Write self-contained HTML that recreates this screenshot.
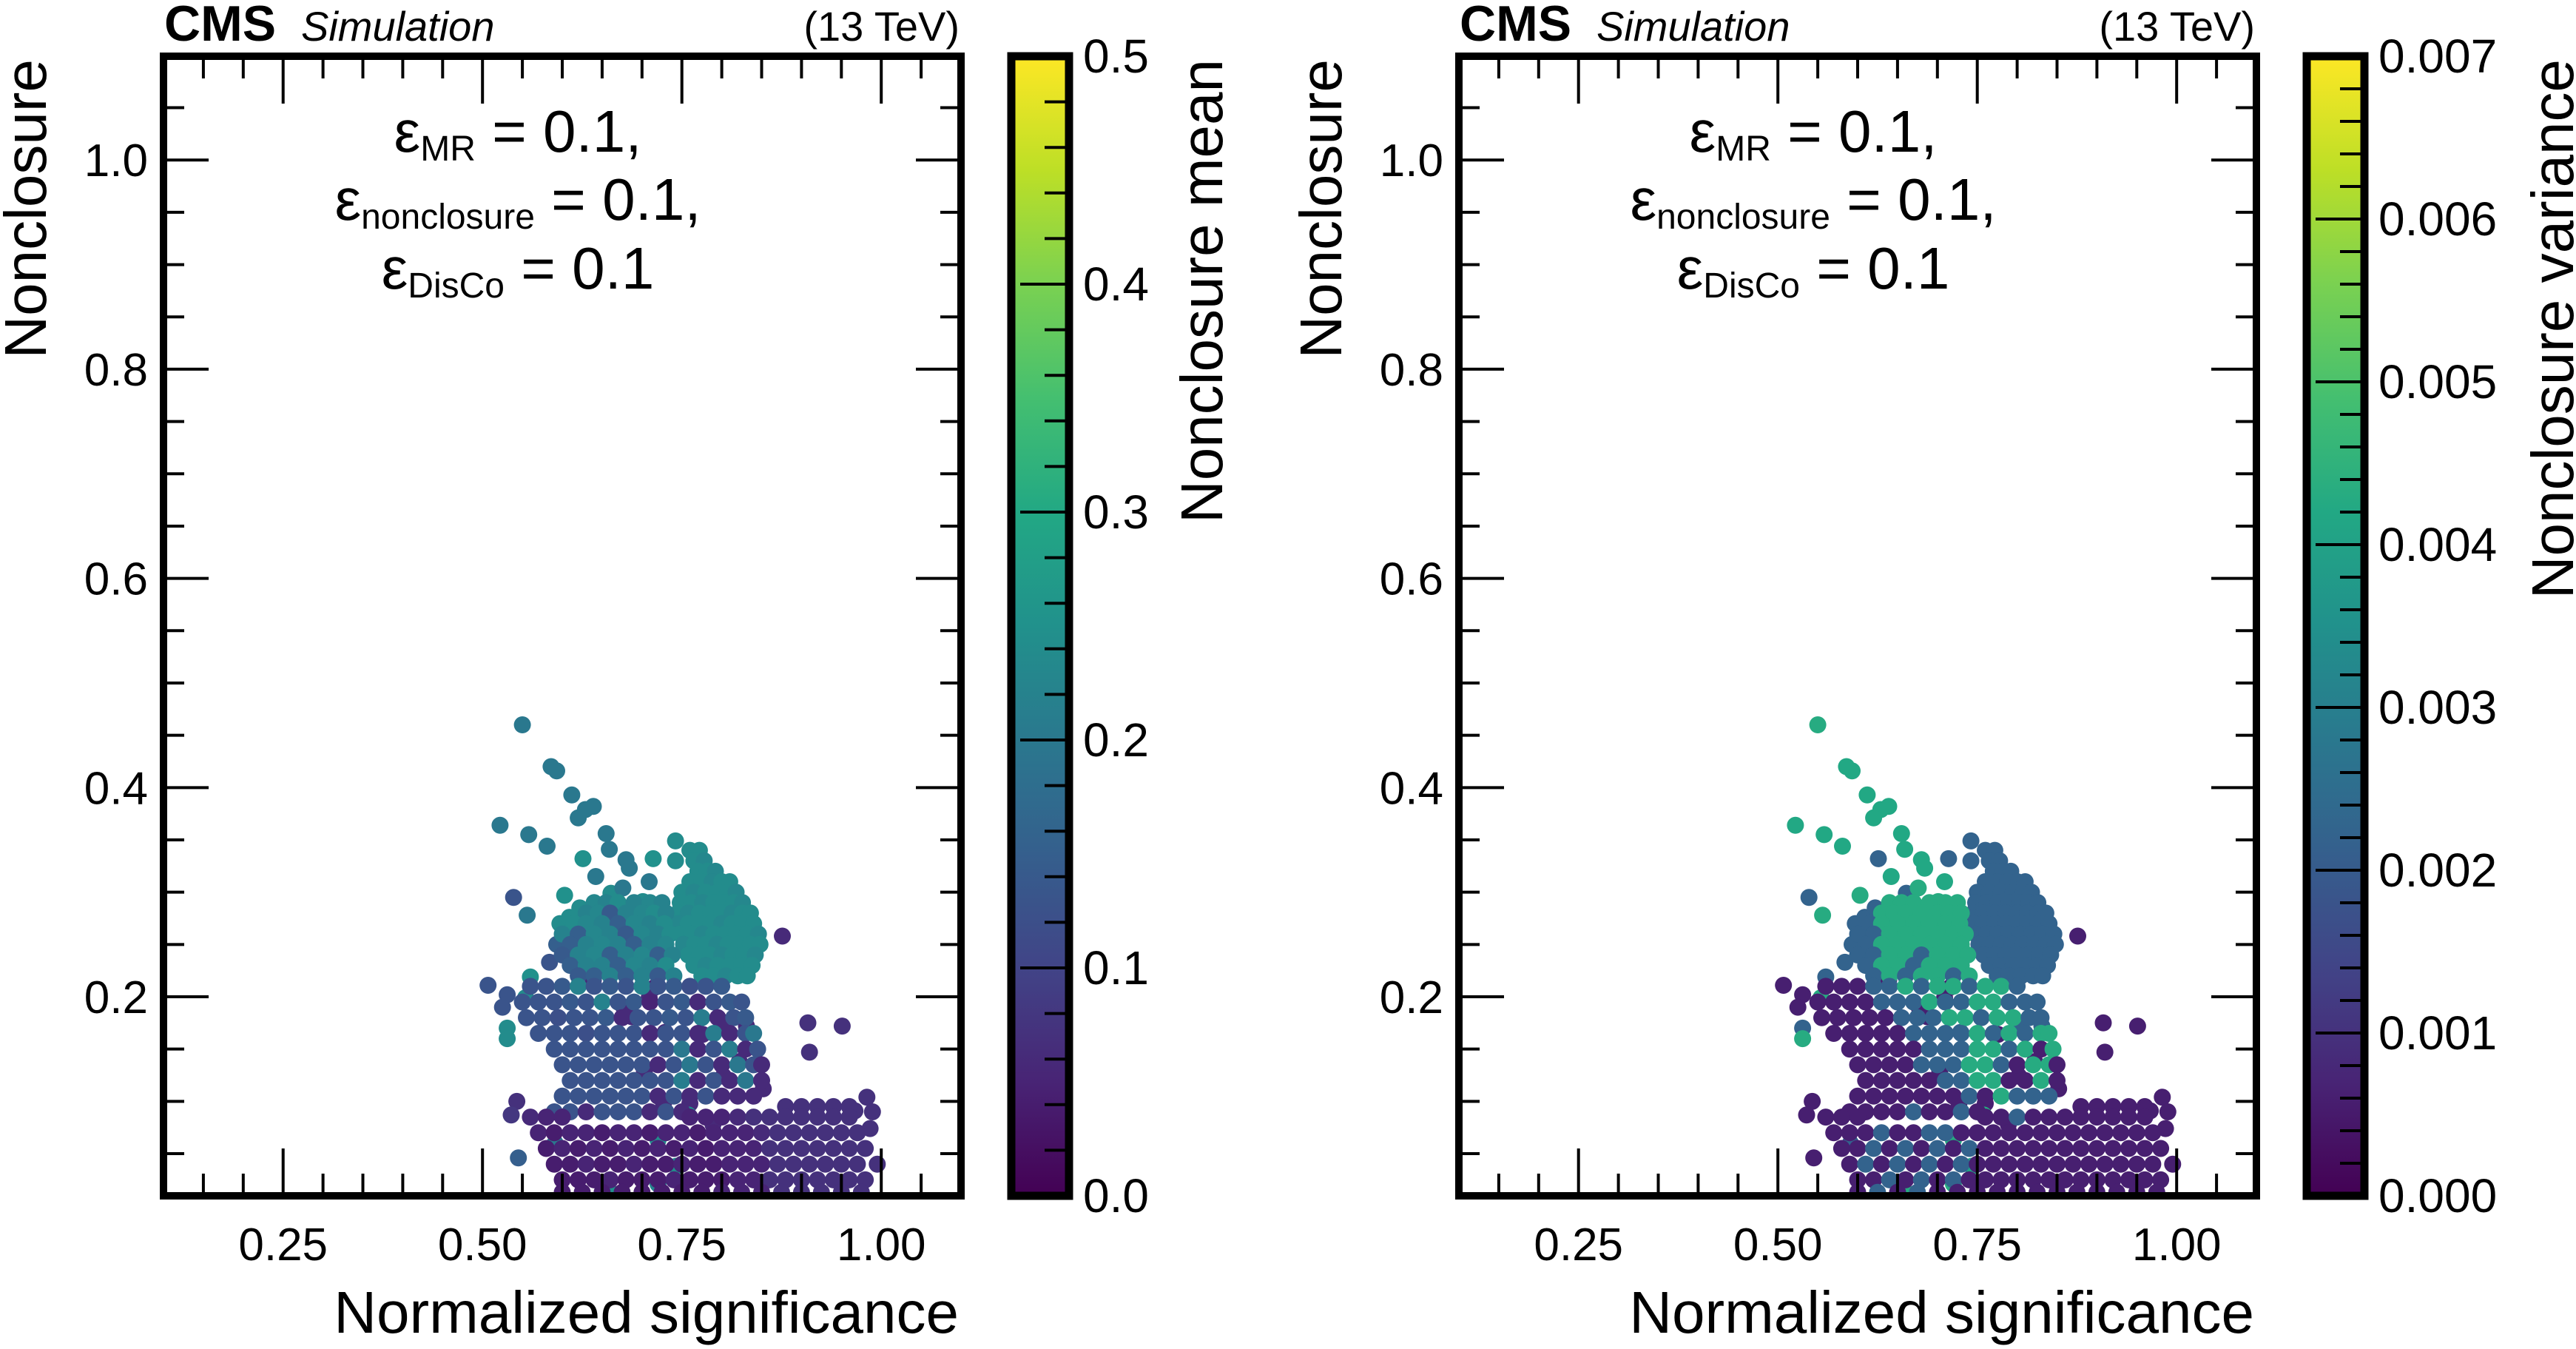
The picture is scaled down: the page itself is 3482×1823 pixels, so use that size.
<!DOCTYPE html>
<html><head><meta charset="utf-8">
<style>
html,body{margin:0;padding:0;background:#fff;}
svg{display:block;font-family:"Liberation Sans",Arial,sans-serif;}
</style></head>
<body>
<svg id="fig" width="3482" height="1823" viewBox="0 0 3482 1823" xmlns="http://www.w3.org/2000/svg">
<defs>
<linearGradient id="viridis" x1="0" y1="1" x2="0" y2="0">
<stop offset="0" stop-color="#440154"/><stop offset="0.1" stop-color="#482475"/><stop offset="0.2" stop-color="#414487"/><stop offset="0.3" stop-color="#355f8d"/><stop offset="0.4" stop-color="#2a788e"/><stop offset="0.5" stop-color="#21918c"/><stop offset="0.6" stop-color="#22a884"/><stop offset="0.7" stop-color="#44bf70"/><stop offset="0.8" stop-color="#7ad151"/><stop offset="0.9" stop-color="#bddf26"/><stop offset="1" stop-color="#fde725"/>
</linearGradient>
<clipPath id="clipL"><rect x="221" y="76" width="1078" height="1540"/></clipPath>
<clipPath id="clipR"><rect x="1972" y="76" width="1078" height="1540"/></clipPath>
</defs>
</svg>
<script>
// ---- data ----
const sigX = [
0.550,0.586,0.593,0.612,0.629,0.639,0.620,0.522,0.558,0.581,0.655,0.659,0.680,0.684,0.626,0.642,0.714,0.742,0.742,0.709,0.539,0.556,0.603,0.876,0.507,0.908,0.951,0.910,0.982,0.967,0.989,0.986,0.545,0.531,0.531,
0.593,0.584,0.560,0.531,0.525,0.554,0.543,0.536,0.597,0.609,0.622,0.617,0.639,0.650,0.661,0.676,0.701,0.698,0.639,0.716,0.709,0.677,0.687,0.729,0.776,0.804,0.831,0.703,0.727,0.760,0.802,0.822,0.852,0.789,0.758,0.720,0.743,0.720,0.591,0.665,
0.760,0.772, 0.765,0.778, 0.770,0.782,0.792, 0.760,0.775,0.788,0.800,0.810, 0.750,0.765,0.780,0.795,0.808,0.818, 0.748,0.762,0.776,0.790,0.803,0.815,0.826,
0.745,0.758,0.772,0.786,0.800,0.813,0.826,0.836, 0.745,0.758,0.772,0.786,0.800,0.813,0.826,0.840, 0.748,0.762,0.776,0.790,0.804,0.818,0.832,0.846,
0.752,0.766,0.780,0.794,0.808,0.822,0.836,0.848, 0.758,0.772,0.786,0.800,0.814,0.828,0.842, 0.765,0.780,0.795,0.810,0.825,0.838, 0.775,0.790,0.805,0.820,0.832,
0.640,0.655,0.670,0.690,0.710,0.725, 0.630,0.645,0.660,0.680,0.700,0.715,0.730, 0.615,0.630,0.650,0.670,0.690,0.710,0.728, 0.600,0.620,0.640,0.660,0.680,0.700,0.720,0.735,
0.610,0.630,0.650,0.670,0.690,0.710,0.730, 0.600,0.620,0.640,0.660,0.680,0.700,0.720,0.738, 0.610,0.630,0.650,0.670,0.690,0.710,0.730, 0.620,0.640,0.660,0.680,0.700,0.720,0.740,
0.560,0.580,0.600,0.620,0.640,0.660,0.680,0.700,0.720,0.740,0.760,0.780,0.800,
0.550,0.570,0.590,0.610,0.630,0.650,0.670,0.690,0.710,0.730,0.750,0.770,0.790,0.810,0.825,
0.555,0.575,0.595,0.615,0.635,0.655,0.675,0.695,0.715,0.735,0.755,0.775,0.795,0.815,0.830,
0.570,0.590,0.610,0.630,0.650,0.670,0.690,0.710,0.730,0.750,0.770,0.790,0.810,0.830,0.840,
0.590,0.610,0.630,0.650,0.670,0.690,0.710,0.730,0.750,0.770,0.790,0.810,0.830,0.845,
0.600,0.620,0.640,0.660,0.680,0.700,0.720,0.740,0.760,0.780,0.800,0.820,0.840,0.850,
0.610,0.630,0.650,0.670,0.690,0.710,0.730,0.750,0.770,0.790,0.810,0.830,0.850,
0.600,0.620,0.640,0.660,0.680,0.700,0.720,0.740,0.760,0.780,0.800,0.820,0.840,
0.590,0.610,0.630,0.650,0.670,0.690,0.710,0.730,0.750,
0.880,0.900,0.920,0.940,0.960,
0.560,0.580,0.600,0.760,0.780,0.800,0.820,0.840,0.860,0.880,0.900,0.920,0.940,0.960,
0.570,0.590,0.610,0.630,0.650,0.670,0.690,0.710,0.730,0.750,0.770,0.790,0.810,0.830,0.850,0.870,0.890,0.910,0.930,0.950,0.970,
0.580,0.600,0.620,0.640,0.660,0.680,0.700,0.720,0.740,0.760,0.780,0.800,0.820,0.840,0.860,0.880,0.900,0.920,0.940,0.960,0.980,
0.590,0.610,0.630,0.650,0.670,0.690,0.710,0.730,0.750,0.770,0.790,0.810,0.830,0.850,0.870,0.890,0.910,0.930,0.950,0.970,0.995,
0.600,0.620,0.640,0.660,0.680,0.700,0.720,0.740,0.760,0.780,0.800,0.820,0.840,0.860,0.880,0.900,0.920,0.940,0.960,0.980,
0.600,0.625,0.650,0.675,0.700,0.725,0.750,0.775,0.800,0.825,0.850,0.875,0.900,0.925,0.950,0.975
];
const nonY = [
0.460,0.420,0.416,0.393,0.379,0.382,0.371,0.364,0.355,0.344,0.356,0.341,0.331,0.323,0.332,0.315,0.332,0.349,0.330,0.310,0.295,0.278,0.297,0.258,0.211,0.175,0.172,0.147,0.104,0.091,0.090,0.074,0.046,0.170,0.160,
0.250,0.233,0.219,0.202,0.190,0.199,0.100,0.087,0.270,0.276,0.285,0.261,0.273,0.259,0.299,0.304,0.291,0.255,0.216,0.209,0.199,0.190,0.181,0.166,0.164,0.175,0.172,0.129,0.098,0.098,0.124,0.138,0.112,0.078,0.087,0.063,0.038,0.021,0.060,0.011,
0.340,0.340, 0.330,0.330, 0.320,0.320,0.320, 0.310,0.310,0.310,0.310,0.310, 0.300,0.300,0.300,0.300,0.300,0.300, 0.290,0.290,0.290,0.290,0.290,0.290,0.290,
0.280,0.280,0.280,0.280,0.280,0.280,0.280,0.280, 0.270,0.270,0.270,0.270,0.270,0.270,0.270,0.270, 0.260,0.260,0.260,0.260,0.260,0.260,0.260,0.260,
0.250,0.250,0.250,0.250,0.250,0.250,0.250,0.250, 0.240,0.240,0.240,0.240,0.240,0.240,0.240, 0.230,0.230,0.230,0.230,0.230,0.230, 0.220,0.220,0.220,0.220,0.220,
0.290,0.290,0.290,0.290,0.290,0.290, 0.280,0.280,0.280,0.280,0.280,0.280,0.280, 0.270,0.270,0.270,0.270,0.270,0.270,0.270, 0.260,0.260,0.260,0.260,0.260,0.260,0.260,0.260,
0.250,0.250,0.250,0.250,0.250,0.250,0.250, 0.240,0.240,0.240,0.240,0.240,0.240,0.240,0.240, 0.230,0.230,0.230,0.230,0.230,0.230,0.230, 0.220,0.220,0.220,0.220,0.220,0.220,0.220,
0.210,0.210,0.210,0.210,0.210,0.210,0.210,0.210,0.210,0.210,0.210,0.210,0.210,
0.195,0.195,0.195,0.195,0.195,0.195,0.195,0.195,0.195,0.195,0.195,0.195,0.195,0.195,0.195,
0.180,0.180,0.180,0.180,0.180,0.180,0.180,0.180,0.180,0.180,0.180,0.180,0.180,0.180,0.180,
0.165,0.165,0.165,0.165,0.165,0.165,0.165,0.165,0.165,0.165,0.165,0.165,0.165,0.165,0.165,
0.150,0.150,0.150,0.150,0.150,0.150,0.150,0.150,0.150,0.150,0.150,0.150,0.150,0.150,
0.135,0.135,0.135,0.135,0.135,0.135,0.135,0.135,0.135,0.135,0.135,0.135,0.135,0.135,
0.120,0.120,0.120,0.120,0.120,0.120,0.120,0.120,0.120,0.120,0.120,0.120,0.120,
0.105,0.105,0.105,0.105,0.105,0.105,0.105,0.105,0.105,0.105,0.105,0.105,0.105,
0.090,0.090,0.090,0.090,0.090,0.090,0.090,0.090,0.090,
0.095,0.095,0.095,0.095,0.095,
0.085,0.085,0.085,0.085,0.085,0.085,0.085,0.085,0.085,0.085,0.085,0.085,0.085,0.085,
0.070,0.070,0.070,0.070,0.070,0.070,0.070,0.070,0.070,0.070,0.070,0.070,0.070,0.070,0.070,0.070,0.070,0.070,0.070,0.070,0.070,
0.055,0.055,0.055,0.055,0.055,0.055,0.055,0.055,0.055,0.055,0.055,0.055,0.055,0.055,0.055,0.055,0.055,0.055,0.055,0.055,0.055,
0.040,0.040,0.040,0.040,0.040,0.040,0.040,0.040,0.040,0.040,0.040,0.040,0.040,0.040,0.040,0.040,0.040,0.040,0.040,0.040,0.040,
0.025,0.025,0.025,0.025,0.025,0.025,0.025,0.025,0.025,0.025,0.025,0.025,0.025,0.025,0.025,0.025,0.025,0.025,0.025,0.025,
0.013,0.013,0.013,0.013,0.013,0.013,0.013,0.013,0.013,0.013,0.013,0.013,0.013,0.013,0.013,0.013
];
const meanV = [
0.20,0.20,0.20,0.20,0.20,0.20,0.20,0.20,0.20,0.20,0.20,0.20,0.20,0.20,0.25,0.20,0.25,0.24,0.24,0.20,0.13,0.20,0.25,0.06,0.13,0.07,0.07,0.07,0.07,0.07,0.07,0.07,0.15,0.24,0.24,
0.15,0.13,0.25,0.13,0.13,0.24,0.07,0.08,0.24,0.24,0.24,0.22,0.24,0.07,0.24,0.20,0.24,0.06,0.06,0.06,0.06,0.06,0.06,0.06,0.06,0.06,0.06,0.06,0.06,0.06,0.06,0.06,0.06,0.06,0.24,0.24,0.24,0.22,0.20,0.25,
0.24,0.24, 0.24,0.23, 0.24,0.24,0.23, 0.24,0.24,0.23,0.24,0.24, 0.24,0.23,0.24,0.24,0.24,0.23, 0.24,0.24,0.23,0.24,0.24,0.24,0.23,
0.24,0.23,0.24,0.24,0.24,0.23,0.24,0.24, 0.23,0.24,0.24,0.24,0.23,0.24,0.24,0.24, 0.24,0.24,0.23,0.24,0.24,0.24,0.24,0.23,
0.23,0.24,0.24,0.23,0.24,0.24,0.24,0.24, 0.24,0.24,0.24,0.23,0.24,0.24,0.23, 0.24,0.23,0.24,0.24,0.24,0.24, 0.24,0.24,0.23,0.24,0.24,
0.23,0.22,0.24,0.22,0.23,0.22, 0.22,0.23,0.14,0.22,0.23,0.24,0.22, 0.24,0.23,0.22,0.15,0.23,0.22,0.24, 0.22,0.15,0.23,0.22,0.14,0.23,0.22,0.24,
0.15,0.22,0.23,0.22,0.15,0.22,0.23, 0.14,0.22,0.23,0.15,0.22,0.23,0.15,0.22, 0.15,0.22,0.22,0.15,0.23,0.22,0.24, 0.14,0.15,0.22,0.15,0.22,0.14,0.22,
0.13,0.13,0.14,0.22,0.13,0.14,0.13,0.22,0.13,0.14,0.12,0.13,0.14,
0.13,0.13,0.13,0.14,0.13,0.22,0.13,0.14,0.05,0.13,0.14,0.06,0.13,0.14,0.13,
0.13,0.13,0.12,0.13,0.13,0.14,0.06,0.13,0.13,0.14,0.13,0.21,0.06,0.13,0.14,
0.13,0.13,0.13,0.12,0.13,0.13,0.13,0.06,0.13,0.13,0.06,0.21,0.06,0.13,0.20,
0.13,0.13,0.13,0.13,0.13,0.13,0.13,0.13,0.20,0.06,0.13,0.21,0.06,0.13,
0.13,0.13,0.13,0.13,0.13,0.13,0.06,0.13,0.20,0.13,0.06,0.20,0.13,0.06,
0.13,0.13,0.13,0.13,0.13,0.13,0.13,0.21,0.06,0.13,0.06,0.20,0.06,
0.13,0.13,0.13,0.13,0.13,0.13,0.06,0.13,0.06,0.13,0.06,0.06,0.06,
0.13,0.13,0.06,0.13,0.13,0.13,0.06,0.13,0.06,
0.07,0.07,0.07,0.07,0.07,
0.06,0.05,0.05,0.05,0.05,0.05,0.06,0.07,0.07,0.07,0.07,0.07,0.07,0.07,
0.05,0.04,0.05,0.05,0.04,0.05,0.05,0.04,0.05,0.05,0.04,0.05,0.05,0.05,0.06,0.07,0.07,0.07,0.07,0.07,0.07,
0.04,0.05,0.04,0.05,0.04,0.05,0.04,0.05,0.04,0.05,0.04,0.05,0.05,0.05,0.07,0.07,0.07,0.07,0.07,0.07,0.07,
0.04,0.04,0.05,0.04,0.04,0.05,0.04,0.04,0.05,0.04,0.04,0.05,0.05,0.05,0.07,0.07,0.07,0.07,0.07,0.07,0.07,
0.04,0.04,0.04,0.05,0.04,0.04,0.04,0.05,0.04,0.04,0.04,0.05,0.05,0.07,0.07,0.07,0.07,0.07,0.07,0.07,
0.04,0.04,0.04,0.04,0.04,0.04,0.04,0.04,0.05,0.05,0.05,0.07,0.07,0.07,0.07,0.07
];
const varV = [
0.0043,0.0042,0.0042,0.0042,0.0042,0.0042,0.0042,0.0042,0.0042,0.0042,0.0042,0.0042,0.0042,0.0042,0.0022,0.0042,0.0022,0.0022,0.0022,0.0042,0.0022,0.0043,0.0043,0.0006,0.0006,0.0006,0.0006,0.0006,0.0006,0.0006,0.0006,0.0006,0.0006,0.0022,0.0043,
0.0022,0.0022,0.0022,0.0006,0.0006,0.0043,0.0006,0.0006,0.0022,0.0022,0.0022,0.0043,0.0022,0.0022,0.0022,0.0043,0.0043,0.0043,0.0006,0.0006,0.0006,0.0006,0.0006,0.0022,0.0006,0.0022,0.0022,0.0006,0.0006,0.0006,0.0006,0.0006,0.0006,0.0006,0.0043,0.0043,0.0040,0.0043,0.0022,0.0043,
0.0022,0.0022, 0.0022,0.0022, 0.0022,0.0022,0.0022, 0.0022,0.0022,0.0022,0.0022,0.0022, 0.0022,0.0022,0.0022,0.0022,0.0022,0.0022, 0.0022,0.0022,0.0022,0.0022,0.0022,0.0022,0.0022,
0.0022,0.0022,0.0022,0.0022,0.0022,0.0022,0.0022,0.0022, 0.0022,0.0022,0.0022,0.0022,0.0022,0.0022,0.0022,0.0022, 0.0022,0.0022,0.0022,0.0022,0.0022,0.0022,0.0022,0.0022,
0.0022,0.0022,0.0022,0.0022,0.0022,0.0022,0.0022,0.0022, 0.0022,0.0022,0.0022,0.0022,0.0022,0.0022,0.0022, 0.0022,0.0022,0.0022,0.0022,0.0022,0.0022, 0.0022,0.0022,0.0022,0.0022,0.0022,
0.0043,0.0043,0.0043,0.0043,0.0043,0.0043, 0.0043,0.0043,0.0043,0.0043,0.0043,0.0043,0.0043, 0.0022,0.0043,0.0043,0.0043,0.0043,0.0043,0.0043, 0.0022,0.0022,0.0043,0.0043,0.0043,0.0043,0.0043,0.0043,
0.0022,0.0043,0.0043,0.0043,0.0043,0.0043,0.0043, 0.0022,0.0022,0.0043,0.0043,0.0022,0.0043,0.0043,0.0043, 0.0022,0.0043,0.0043,0.0022,0.0043,0.0043,0.0043, 0.0022,0.0043,0.0022,0.0043,0.0043,0.0022,0.0043,
0.0006,0.0006,0.0006,0.0022,0.0022,0.0043,0.0022,0.0043,0.0043,0.0022,0.0043,0.0043,0.0022,
0.0006,0.0006,0.0006,0.0006,0.0022,0.0022,0.0022,0.0043,0.0022,0.0022,0.0043,0.0043,0.0022,0.0022,0.0022,
0.0006,0.0006,0.0006,0.0006,0.0006,0.0022,0.0022,0.0022,0.0043,0.0043,0.0022,0.0043,0.0043,0.0022,0.0022,
0.0006,0.0006,0.0006,0.0006,0.0006,0.0022,0.0022,0.0022,0.0022,0.0043,0.0022,0.0043,0.0022,0.0043,0.0043,
0.0006,0.0006,0.0006,0.0006,0.0006,0.0022,0.0022,0.0022,0.0043,0.0043,0.0022,0.0043,0.0006,0.0043,
0.0006,0.0006,0.0006,0.0006,0.0022,0.0022,0.0022,0.0043,0.0043,0.0022,0.0006,0.0043,0.0043,0.0006,
0.0006,0.0006,0.0006,0.0006,0.0006,0.0022,0.0022,0.0043,0.0043,0.0006,0.0006,0.0043,0.0006,
0.0006,0.0006,0.0006,0.0006,0.0006,0.0006,0.0006,0.0022,0.0006,0.0043,0.0022,0.0022,0.0022,
0.0006,0.0006,0.0006,0.0006,0.0022,0.0006,0.0006,0.0022,0.0006,
0.0006,0.0006,0.0006,0.0006,0.0006,
0.0006,0.0006,0.0006,0.0006,0.0006,0.0022,0.0006,0.0006,0.0006,0.0006,0.0006,0.0006,0.0006,0.0006,
0.0006,0.0006,0.0006,0.0022,0.0006,0.0006,0.0022,0.0022,0.0006,0.0006,0.0006,0.0006,0.0006,0.0006,0.0006,0.0006,0.0006,0.0006,0.0006,0.0006,0.0006,
0.0006,0.0006,0.0022,0.0006,0.0022,0.0006,0.0022,0.0006,0.0022,0.0006,0.0006,0.0006,0.0006,0.0006,0.0006,0.0006,0.0006,0.0006,0.0006,0.0006,0.0006,
0.0006,0.0022,0.0006,0.0022,0.0006,0.0022,0.0006,0.0022,0.0006,0.0006,0.0006,0.0006,0.0006,0.0006,0.0006,0.0006,0.0006,0.0006,0.0006,0.0006,0.0006,
0.0006,0.0006,0.0022,0.0006,0.0022,0.0006,0.0022,0.0006,0.0006,0.0006,0.0006,0.0006,0.0006,0.0006,0.0006,0.0006,0.0006,0.0006,0.0006,0.0006,
0.0006,0.0022,0.0006,0.0022,0.0006,0.0006,0.0006,0.0006,0.0006,0.0006,0.0006,0.0006,0.0006,0.0006,0.0006,0.0006
];
const xTickLabels = ["0.25","0.50","0.75","1.00"];
const xTickVals = [0.25,0.5,0.75,1.0];
const yTickLabels = ["0.2","0.4","0.6","0.8","1.0"];
const yTickVals = [0.2,0.4,0.6,0.8,1.0];
const meanCbarLabels = ["0.0","0.1","0.2","0.3","0.4","0.5"];
const varCbarLabels = ["0.000","0.001","0.002","0.003","0.004","0.005","0.006","0.007"];

// ---- layout ----
const NS = "http://www.w3.org/2000/svg";
const svg = document.getElementById('fig');
const X0 = 221, X1 = 1299, Y0 = 76, Y1 = 1616;
const XMIN = 0.1, XMAX = 1.1, YMIN = 0.0097, YMAX = 1.0992;
function xs(v, dx){ return dx + X0 + (v - XMIN)/(XMAX - XMIN)*(X1 - X0); }
function ys(v){ return Y1 - (v - YMIN)/(YMAX - YMIN)*(Y1 - Y0); }
const stops = [[68,1,84],[72,36,117],[65,68,135],[53,95,141],[42,120,142],[33,145,140],[34,168,132],[68,191,112],[122,209,81],[189,223,38],[253,231,37]];
function viridis(t){
  t = Math.max(0, Math.min(1, t));
  const f = t*10, i = Math.min(9, Math.floor(f)), r = f - i;
  const a = stops[i], b = stops[i+1];
  return 'rgb(' + [0,1,2].map(k => Math.round(a[k] + (b[k]-a[k])*r)).join(',') + ')';
}
function mk(tag, attrs, parent){
  const e = document.createElementNS(NS, tag);
  for (const k in attrs) e.setAttribute(k, attrs[k]);
  (parent || svg).appendChild(e);
  return e;
}
function line(x1,y1,x2,y2,w,parent){ return mk('line',{x1:x1,y1:y1,x2:x2,y2:y2,stroke:'#000','stroke-width':w},parent); }

function panel(dx, vals, vmax, clipId, cbarLabels, cbarTitle, cbarTitleX, key){
  const g = mk('g', {});
  
  
  // points
  const pts = mk('g', {'clip-path':'url(#' + clipId + ')'}, g);
  
  
  for (let i = 0; i < sigX.length; i++){
    const c = mk('circle', {cx: xs(sigX[i], dx).toFixed(1), cy: ys(nonY[i]).toFixed(1), r: 11.5, fill: viridis(vals[i]/vmax)}, pts);
    
    
  }
  // ticks
  const tk = mk('g', {}, g);
  
  
  for (let k = 0; k <= 20; k++){
    const v = 0.1 + k*0.05;
    const major = Math.abs((v/0.25) - Math.round(v/0.25)) < 1e-6;
    const L = major ? 64 : 30, px = xs(v, dx);
    if (px <= dx + X0 + 2 || px >= dx + X1 - 2) continue;
    line(px, Y1, px, Y1 - L, 4, tk); line(px, Y0, px, Y0 + L, 4, tk);
  }
  for (let k = 1; k <= 21; k++){
    const v = k*0.05;
    const major = Math.abs((v/0.2) - Math.round(v/0.2)) < 1e-6;
    const L = major ? 61 : 28, py = ys(v);
    if (py <= Y0 + 2) continue;
    line(dx + X0, py, dx + X0 + L, py, 4, tk); line(dx + X1, py, dx + X1 - L, py, 4, tk);
  }
  // frame
  const fr = mk('rect', {x: dx + X0, y: Y0, width: X1 - X0, height: Y1 - Y0, fill: 'none', stroke: '#000', 'stroke-width': 10}, g);
  
  
  // tick labels
  xTickVals.forEach((v, i) => {
    const t = mk('text', {x: xs(v, dx), y: 1703, 'font-size': 62, 'text-anchor': 'middle'}, g);
    t.textContent = xTickLabels[i];
    
    
  });
  yTickVals.forEach((v, i) => {
    const t = mk('text', {x: dx + 200, y: ys(v) + 22, 'font-size': 62, 'text-anchor': 'end'}, g);
    t.textContent = yTickLabels[i];
    
    
  });
  // axis titles
  const xt = mk('text', {x: dx + 1296, y: 1801, 'font-size': 80, 'text-anchor': 'end'}, g);
  xt.textContent = 'Normalized significance';
  
  
  const yt = mk('text', {transform: 'translate(' + (dx + 62) + ',80) rotate(-90)', 'font-size': 80, 'text-anchor': 'end'}, g);
  yt.textContent = 'Nonclosure';
  
  
  // CMS header
  const cms = mk('text', {x: dx + 222, y: 55, 'font-size': 68, 'font-weight': 'bold'}, g);
  cms.textContent = 'CMS';
  
  
  const sim = mk('text', {x: dx + 407, y: 55, 'font-size': 56, 'font-style': 'italic'}, g);
  sim.textContent = 'Simulation';
  
  
  const tev = mk('text', {x: dx + 1297, y: 55, 'font-size': 56, 'text-anchor': 'end'}, g);
  tev.textContent = '(13 TeV)';
  
  
  // annotation
  const ann = [['MR', '0.1,', 205], ['nonclosure', '0.1,', 297], ['DisCo', '0.1', 390]];
  ann.forEach(a => {
    const t = mk('text', {x: dx + 700, y: a[2], 'font-size': 80, 'text-anchor': 'middle'}, g);
    
    
    const t1 = mk('tspan', {}, t); t1.textContent = 'ε';
    const t2 = mk('tspan', {dy: 12, 'font-size': 48}, t); t2.textContent = a[0];
    const t3 = mk('tspan', {dy: -12}, t); t3.textContent = ' = ' + a[1];
  });
  // colorbar
  const cx0 = dx + 1367, cx1 = dx + 1445;
  const cb = mk('g', {}, g);
  
  
  mk('rect', {x: cx0, y: Y0, width: cx1 - cx0, height: Y1 - Y0, fill: 'url(#viridis)'}, cb);
  const nMaj = cbarLabels.length - 1;
  const nTot = nMaj * 5;
  for (let k = 1; k < nTot; k++){
    const py = Y1 - k/nTot*(Y1 - Y0);
    const L = (k % 5 === 0) ? 61 : 28;
    line(cx1 - 5, py, cx1 - 5 - L, py, 4, cb);
  }
  mk('rect', {x: cx0, y: Y0, width: cx1 - cx0, height: Y1 - Y0, fill: 'none', stroke: '#000', 'stroke-width': 11}, cb);
  cbarLabels.forEach((lab, i) => {
    const t = mk('text', {x: cx1 + 19, y: Y1 - i/nMaj*(Y1 - Y0) + 22, 'font-size': 64}, cb);
    t.textContent = lab;
    
    
  });
  const ct = mk('text', {transform: 'translate(' + cbarTitleX + ',80) rotate(-90)', 'font-size': 80, 'text-anchor': 'end'}, cb);
  ct.textContent = cbarTitle;
  
  
}
panel(0, meanV, 0.5, 'clipL', meanCbarLabels, 'Nonclosure mean', 1652, 'mean');
panel(1751, varV, 0.007, 'clipR', varCbarLabels, 'Nonclosure variance', 3478, 'variance');
</script>
</body></html>
